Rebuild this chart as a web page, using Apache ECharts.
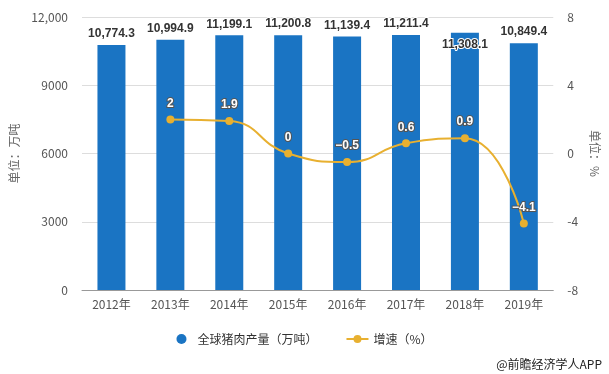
<!DOCTYPE html>
<html>
<head>
<meta charset="utf-8">
<script src="https://cdn.jsdelivr.net/npm/echarts@6/dist/echarts.min.js"></script>
<style>html,body{margin:0;padding:0;background:#fff}#c{width:609px;height:374px}</style>
</head>
<body>
<div id="c"></div>
<script>
var categories = ['2012年','2013年','2014年','2015年','2016年','2017年','2018年','2019年'];
var production = [10774.3, 10994.9, 11199.1, 11200.8, 11139.4, 11211.4, 11308.1, 10849.4];
var growth = [null, 2, 1.9, 0, -0.5, 0.6, 0.9, -4.1];
var leftTicks = [0, 3000, 6000, 9000, 12000];
var rightTicks = [-8, -4, 0, 4, 8];

var FONT = '"Microsoft YaHei","Noto Sans CJK SC","Liberation Sans",sans-serif';
function fmtThousands(v){
  var parts = v.toFixed(1).split('.');
  return parts[0].replace(/\B(?=(\d{3})+(?!\d))/g, ',') + '.' + parts[1];
}
var barData = production.map(function(v, i){
  if (i === 6) return {value: v, label: {position: 'insideTop', distance: 6}};
  return v;
});

var chart = echarts.init(document.getElementById('c'));
chart.setOption({
  animation: false,
  textStyle: {fontFamily: FONT},
  grid: {left: 82, right: 55, top: 17, bottom: 84},
  legend: {
    bottom: 24, left: 'center', itemGap: 28, itemWidth: 22, itemHeight: 10,
    textStyle: {fontSize: 12, color: '#333', fontFamily: FONT},
    data: [
      {name: '全球猪肉产量（万吨）', icon: 'circle'},
      {name: '增速（%）'}
    ]
  },
  xAxis: {
    type: 'category', data: categories,
    axisLine: {lineStyle: {color: '#999'}},
    axisTick: {alignWithLabel: true, length: 5, lineStyle: {color: '#999'}},
    axisLabel: {color: '#555', fontSize: 12, margin: 8}
  },
  yAxis: [{
    type: 'value', min: 0, max: 12000, interval: 3000,
    name: '单位：万吨', nameLocation: 'middle', nameGap: 52, nameRotate: 90,
    nameTextStyle: {color: '#666', fontSize: 12},
    axisLine: {show: false}, axisTick: {show: false},
    axisLabel: {color: '#555', fontSize: 12, margin: 14,
      formatter: function(v){ return leftTicks.indexOf(v) >= 0 && v >= 10000 ? '12,000' : String(v); }},
    splitLine: {lineStyle: {color: '#ddd'}}
  }, {
    type: 'value', min: -8, max: 8, interval: 4,
    name: '单位：%', nameLocation: 'middle', nameGap: 28, nameRotate: -90,
    nameTextStyle: {color: '#666', fontSize: 12},
    axisLine: {show: false}, axisTick: {show: false},
    axisLabel: {color: '#555', fontSize: 12, margin: 14},
    splitLine: {show: false}
  }],
  series: [{
    name: '全球猪肉产量（万吨）', type: 'bar', data: barData, barWidth: 28,
    itemStyle: {color: '#1A74C3'},
    label: {show: true, position: 'top', distance: 5, color: '#333', fontWeight: 'bold', fontSize: 12,
      fontFamily: '"Liberation Sans",Arial,sans-serif',
      textBorderColor: '#fff', textBorderWidth: 2,
      formatter: function(p){ return fmtThousands(p.value); }}
  }, {
    name: '增速（%）', type: 'line', yAxisIndex: 1, data: growth, smooth: true,
    symbol: 'circle', symbolSize: 8, connectNulls: false,
    itemStyle: {color: '#E8B030'}, lineStyle: {color: '#E8B030', width: 2},
    label: {show: true, position: 'top', distance: 6, color: '#fff', fontWeight: 'bold', fontSize: 12,
      fontFamily: '"Liberation Sans",Arial,sans-serif',
      textBorderColor: '#555', textBorderWidth: 2,
      formatter: function(p){ return p.value < 0 ? '\u2212' + Math.abs(p.value) : String(p.value); }}
  }],
  graphic: [{
    type: 'text', right: 7, bottom: 4,
    style: {text: '@前瞻经济学人APP', fill: '#222', fontSize: 12, fontFamily: FONT}
  }]
});
</script>
</body>
</html>
